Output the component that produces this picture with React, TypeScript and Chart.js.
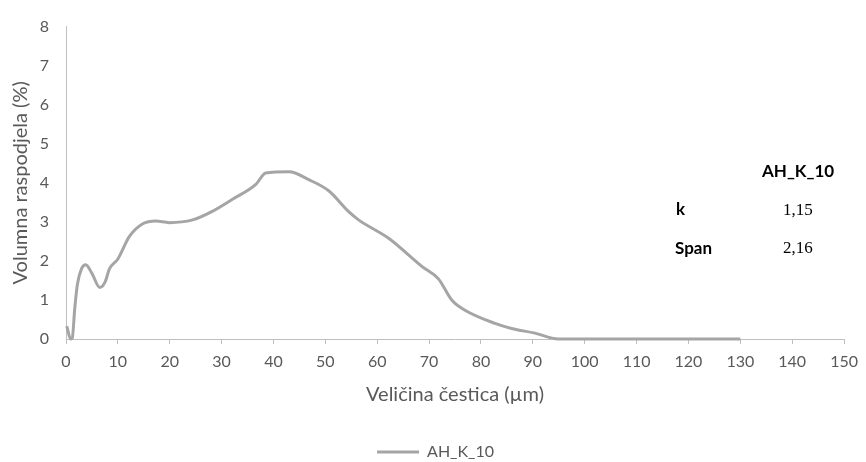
import React, { useEffect, useRef } from "react";
import { Chart, registerables } from "chart.js";

Chart.register(...registerables);

// ---- data ----
const seriesLabel = "AH_K_10";
const sizes = [0.15, 0.9, 1.2, 1.7, 2.2, 3.0, 3.8, 5.0, 6.5, 7.5, 8.4, 10, 12.2, 14.8, 17.3, 19.9, 24.4, 28.2, 32.1, 36.6, 38.5, 43, 46.8, 50.7, 54.5, 56.4, 62.2, 68.6, 71.8, 74.4, 77, 82.7, 85.9, 90.4, 94.9, 100, 110, 120, 130];
const volumes = [0.33, 0, 0.02, 0.8, 1.4, 1.8, 1.9, 1.68, 1.32, 1.45, 1.8, 2.05, 2.62, 2.95, 3.02, 2.98, 3.05, 3.27, 3.58, 3.96, 4.25, 4.28, 4.08, 3.79, 3.26, 3.05, 2.58, 1.86, 1.54, 0.99, 0.73, 0.4, 0.27, 0.15, 0.0, 0, 0, 0, 0];
const xTitle = "Veličina čestica (µm)";
const yTitle = "Volumna raspodjela (%)";
const xMin = 0, xMax = 150, xStep = 10;
const yMin = 0, yMax = 8, yStep = 1;
const statHeader = "AH_K_10";
const statLabels = ["k", "Span"];
const statValues = ["1,15", "2,16"];

const GRAY_TEXT = "#595959";
const AXIS = "#BFBFBF";
const LINE = "#A5A5A5";
const FONT = "Lato, 'Open Sans', sans-serif";

const legendShift = {
  id: "legendShift",
  beforeDraw(chart: any) {
    const lg = chart.legend;
    if (lg && !lg._shifted) {
      lg.left += 8;
      lg.right += 8;
      lg._shifted = true;
    }
  },
  afterLayout(chart: any) {
    if (chart.legend) chart.legend._shifted = false;
  },
};

export default function App() {
  const ref = useRef<HTMLCanvasElement | null>(null);

  useEffect(() => {
    if (!ref.current) return;
    const chart = new Chart(ref.current, {
      type: "line",
      data: {
        datasets: [
          {
            label: seriesLabel,
            data: sizes.map((x, i) => ({ x, y: volumes[i] })),
            borderColor: LINE,
            backgroundColor: LINE,
            borderWidth: 3,
            pointRadius: 0,
            cubicInterpolationMode: "monotone",
            fill: false,
            clip: 6,
          },
        ],
      },
      options: {
        responsive: false,
        animation: false,
        layout: { padding: { left: 6, right: 17, top: 22, bottom: 0 } },
        scales: {
          x: {
            type: "linear",
            min: xMin,
            max: xMax,
            ticks: { stepSize: xStep, color: GRAY_TEXT, font: { family: FONT, size: 16 }, padding: 8, maxRotation: 0 },
            grid: { display: true, drawOnChartArea: false, drawTicks: true, tickLength: 5, color: AXIS },
            border: { display: true, color: AXIS, width: 1 },
            title: { display: true, text: xTitle, color: GRAY_TEXT, font: { family: FONT, size: 20 }, padding: { top: 0, bottom: 35 } },
            afterFit: (s: any) => { s.height = 103; },
          },
          y: {
            min: yMin,
            max: yMax,
            ticks: { stepSize: yStep, color: GRAY_TEXT, font: { family: FONT, size: 16 }, padding: 17 },
            grid: { display: false, drawTicks: false },
            border: { display: true, color: AXIS, width: 1 },
            title: { display: true, text: yTitle, color: GRAY_TEXT, font: { family: FONT, size: 20 }, padding: { top: 3, bottom: 0 } },
            afterFit: (s: any) => { s.width = 60; },
          },
        },
        plugins: {
          legend: {
            display: true,
            position: "bottom",
            maxHeight: 20,
            labels: {
              usePointStyle: true,
              pointStyle: "line",
              pointStyleWidth: 42,
              boxHeight: 16,
              color: GRAY_TEXT,
              font: { family: FONT, size: 16 },
              padding: 2,
            },
          },
          tooltip: { enabled: false },
        },
      },
      plugins: [legendShift],
    });
    return () => chart.destroy();
  }, []);

  const bold: React.CSSProperties = { position: "absolute", fontFamily: FONT, fontWeight: 700, fontSize: 17, lineHeight: "20px", color: "#000", whiteSpace: "nowrap" };
  const serif: React.CSSProperties = { position: "absolute", fontFamily: "'Liberation Serif', 'DejaVu Serif', serif", fontSize: 17, lineHeight: "20px", color: "#000", whiteSpace: "nowrap" };

  return (
    <div style={{ position: "fixed", left: 0, top: 0, width: 866, height: 462, background: "#fff" }}>
      <canvas ref={ref} width={866} height={462} style={{ display: "block" }} />
      <div style={{ ...bold, left: 762, top: 161 }}>{statHeader}</div>
      <div style={{ ...bold, left: 676, top: 199 }}>{statLabels[0]}</div>
      <div style={{ ...serif, left: 783, top: 200 }}>{statValues[0]}</div>
      <div style={{ ...bold, left: 675, top: 238 }}>{statLabels[1]}</div>
      <div style={{ ...serif, left: 783, top: 238 }}>{statValues[1]}</div>
    </div>
  );
}
